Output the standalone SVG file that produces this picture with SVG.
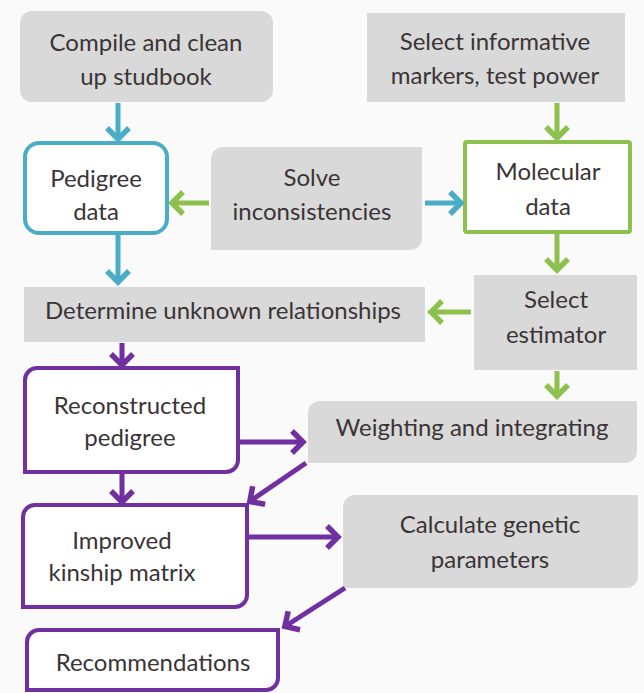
<svg xmlns="http://www.w3.org/2000/svg" width="644" height="693" viewBox="0 0 644 693">
<style>
.g{fill:#d9d9d9;stroke:none}
.t{font-family:Lato,"Liberation Sans",sans-serif;font-size:24px;fill:#3b3436;text-anchor:middle}
.ab{stroke:#4bacc6;stroke-width:5;fill:none}
.ag{stroke:#8dc04c;stroke-width:5;fill:none}
.ap{stroke:#7030a0;stroke-width:5;fill:none}
</style>
<defs>
<marker id="mb" markerUnits="userSpaceOnUse" viewBox="-18 -15 22 30" markerWidth="22" markerHeight="30" refX="0" refY="0" orient="auto"><path d="M-12,-11 L-1,0 L-12,11" fill="none" stroke="#4bacc6" stroke-width="5.5"/></marker>
<marker id="mg" markerUnits="userSpaceOnUse" viewBox="-18 -15 22 30" markerWidth="22" markerHeight="30" refX="0" refY="0" orient="auto"><path d="M-12,-11 L-1,0 L-12,11" fill="none" stroke="#8dc04c" stroke-width="5.5"/></marker>
<marker id="mp" markerUnits="userSpaceOnUse" viewBox="-18 -15 22 30" markerWidth="22" markerHeight="30" refX="0" refY="0" orient="auto"><path d="M-12,-11 L-1,0 L-12,11" fill="none" stroke="#7030a0" stroke-width="5.5"/></marker>
</defs>
<rect width="644" height="693" fill="#fafafa"/>
<g id="compile"><rect class="g" x="20" y="11" width="253" height="91" rx="12"/><text class="t" x="146" y="51">Compile and clean</text><text class="t" x="146" y="85">up studbook</text></g>
<g id="markers"><rect class="g" x="367" y="13" width="258" height="89"/><text class="t" x="495" y="50">Select informative</text><text class="t" x="495" y="84">markers, test power</text></g>
<g id="pedigree"><rect x="25" y="143" width="142" height="90" rx="14" fill="#fff" stroke="#4bacc6" stroke-width="4"/><text class="t" x="96" y="187">Pedigree</text><text class="t" x="96" y="220">data</text></g>
<g id="solve"><path class="g" d="M223,147 H422 V238 A12 12 0 0 1 410,250 H211 V159 A12 12 0 0 1 223,147 Z"/><text class="t" x="312" y="186">Solve</text><text class="t" x="312" y="220">inconsistencies</text></g>
<g id="molecular"><rect x="465" y="142" width="165" height="90" rx="2" fill="#fff" stroke="#8dc04c" stroke-width="4"/><text class="t" x="548" y="180">Molecular</text><text class="t" x="548" y="215">data</text></g>
<g id="determine"><rect class="g" x="24" y="287" width="401" height="55"/><text class="t" x="223" y="319">Determine unknown relationships</text></g>
<g id="estimator"><rect class="g" x="474" y="275" width="163" height="95"/><text class="t" x="556" y="308">Select</text><text class="t" x="556" y="343">estimator</text></g>
<g id="reconstructed"><path d="M37,368 H238 V460 A12 12 0 0 1 226,472 H25 V380 A12 12 0 0 1 37,368 Z" fill="#fff" stroke="#7030a0" stroke-width="4"/><text class="t" x="130" y="414">Reconstructed</text><text class="t" x="130" y="446">pedigree</text></g>
<g id="weighting"><path class="g" d="M320,401 H637 V451 A12 12 0 0 1 625,463 H308 V413 A12 12 0 0 1 320,401 Z"/><text class="t" x="472" y="436">Weighting and integrating</text></g>
<g id="improved"><path d="M35,505 H247 V595 A12 12 0 0 1 235,607 H23 V517 A12 12 0 0 1 35,505 Z" fill="#fff" stroke="#7030a0" stroke-width="4"/><text class="t" x="122" y="549">Improved</text><text class="t" x="122" y="581">kinship matrix</text></g>
<g id="calculate"><path class="g" d="M355,495 H638 V576 A12 12 0 0 1 626,588 H343 V507 A12 12 0 0 1 355,495 Z"/><text class="t" x="490" y="533">Calculate genetic</text><text class="t" x="490" y="568">parameters</text></g>
<g id="recommendations"><path d="M39,630 H278 V678 A12 12 0 0 1 266,690 H27 V642 A12 12 0 0 1 39,630 Z" fill="#fff" stroke="#7030a0" stroke-width="4"/><text class="t" x="153" y="671">Recommendations</text></g>
<g id="connectors">
<line class="ab" x1="118" y1="103" x2="118" y2="140" marker-end="url(#mb)"/>
<line class="ab" x1="118" y1="235" x2="118" y2="283" marker-end="url(#mb)"/>
<line class="ag" x1="209" y1="203" x2="171" y2="203" marker-end="url(#mg)"/>
<line class="ab" x1="425" y1="203" x2="462" y2="203" marker-end="url(#mb)"/>
<line class="ag" x1="557" y1="103" x2="557" y2="139" marker-end="url(#mg)"/>
<line class="ag" x1="557" y1="234" x2="557" y2="271" marker-end="url(#mg)"/>
<line class="ag" x1="471" y1="312" x2="430" y2="312" marker-end="url(#mg)"/>
<line class="ag" x1="557" y1="371" x2="557" y2="397" marker-end="url(#mg)"/>
<line class="ap" x1="122" y1="343" x2="122" y2="366" marker-end="url(#mp)"/>
<line class="ap" x1="240" y1="442" x2="304" y2="442" marker-end="url(#mp)"/>
<line class="ap" x1="306" y1="463" x2="249" y2="502" marker-end="url(#mp)"/>
<line class="ap" x1="122" y1="474" x2="122" y2="503" marker-end="url(#mp)"/>
<line class="ap" x1="249" y1="537" x2="339" y2="537" marker-end="url(#mp)"/>
<line class="ap" x1="345" y1="588" x2="284" y2="627" marker-end="url(#mp)"/>
</g>
</svg>
